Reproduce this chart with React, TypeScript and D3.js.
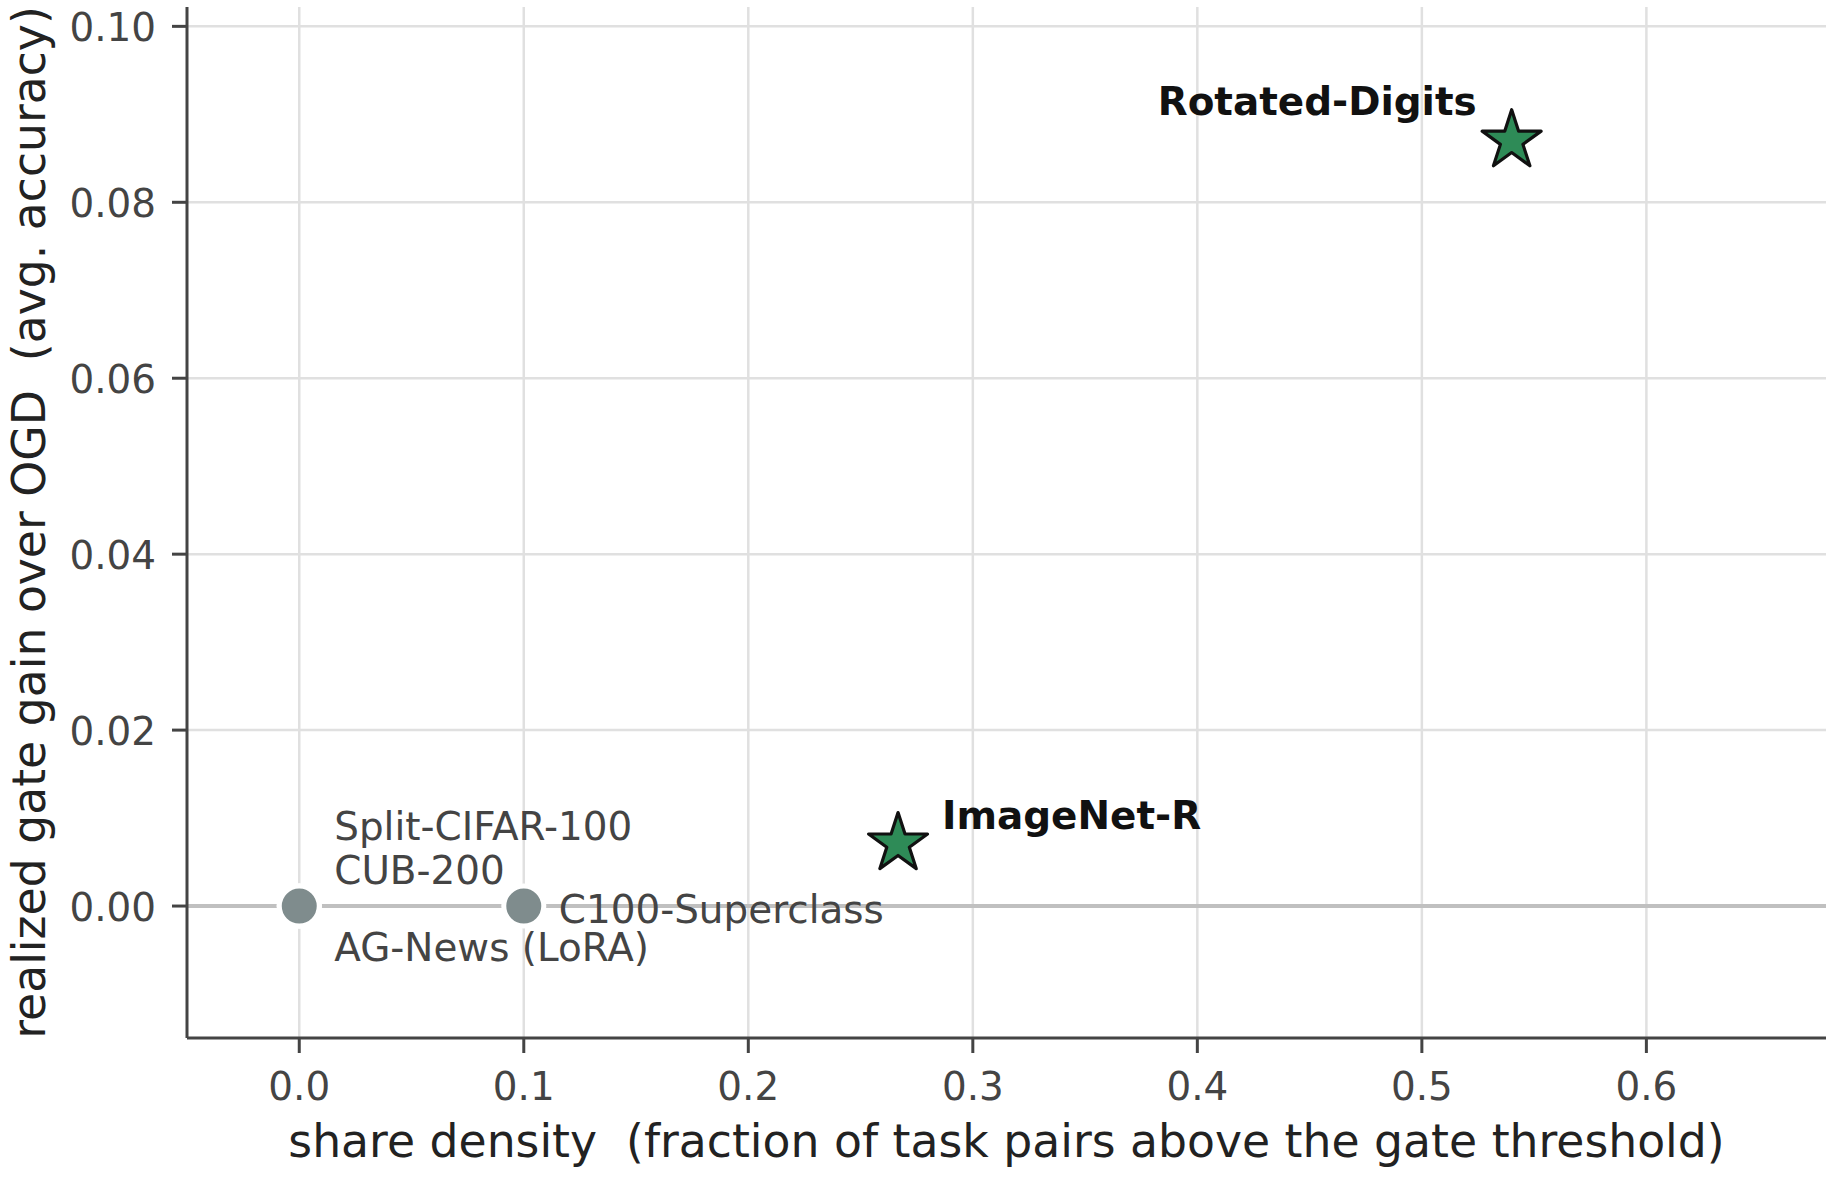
import React from "react";
import * as d3 from "d3";

const datasets = ["Split-CIFAR-100", "CUB-200", "AG-News (LoRA)", "C100-Superclass", "ImageNet-R", "Rotated-Digits"];
const shareDensity = [0.0, 0.0, 0.0, 0.1, 0.2667, 0.54];
const gateGain = [0.0, 0.0, 0.0, 0.0, 0.0071, 0.087];
const gated = [false, false, false, false, true, true];

const xTicks = [0.0, 0.1, 0.2, 0.3, 0.4, 0.5, 0.6];
const yTicks = [0.0, 0.02, 0.04, 0.06, 0.08, 0.1];

const xLabel = "share density  (fraction of task pairs above the gate threshold)";
const yLabel = "realized gate gain over OGD  (avg. accuracy)";

const W = 1836;
const H = 1178;
const M = { left: 187, right: 1826, top: 7, bottom: 1038 };
const FONT = "DejaVu Sans";

export default function App() {
  const x = d3.scaleLinear().domain([-0.05, 0.68]).range([M.left, M.right]);
  const y = d3.scaleLinear().domain([-0.015, 0.1022]).range([M.bottom, M.top]);
  const starPath = d3.symbol(d3.symbolStar, (31 * 31) / 0.8908130915)();

  // label offsets (px) relative to point
  const labelPos: Record<string, { dx: number; dy: number; anchor: string; bold: boolean }> = {
    "Split-CIFAR-100": { dx: 35, dy: -66, anchor: "start", bold: false },
    "CUB-200": { dx: 35, dy: -22, anchor: "start", bold: false },
    "AG-News (LoRA)": { dx: 35, dy: 55, anchor: "start", bold: false },
    "C100-Superclass": { dx: 35, dy: 17, anchor: "start", bold: false },
    "ImageNet-R": { dx: 44, dy: -15, anchor: "start", bold: true },
    "Rotated-Digits": { dx: -35, dy: -26, anchor: "end", bold: true },
  };

  return (
    <svg width={W} height={H} style={{ position: "absolute", left: 0, top: 0, background: "#fff" }} fontFamily={FONT}>
      <rect x={0} y={0} width={W} height={H} fill="#fff" />
      {/* grid */}
      {xTicks.map((t) => (
        <line key={"gx" + t} x1={x(t)} x2={x(t)} y1={M.top} y2={M.bottom} stroke="#e0e0e0" strokeWidth={2.5} />
      ))}
      {yTicks.map((t) => (
        <line key={"gy" + t} x1={M.left} x2={M.right} y1={y(t)} y2={y(t)} stroke="#e0e0e0" strokeWidth={2.5} />
      ))}
      {/* zero line */}
      <line x1={M.left} x2={M.right} y1={y(0)} y2={y(0)} stroke="#c0c0c0" strokeWidth={4} />
      {/* spines */}
      <line x1={M.left} x2={M.left} y1={M.top} y2={M.bottom} stroke="#444" strokeWidth={3} />
      <line x1={M.left} x2={M.right} y1={M.bottom} y2={M.bottom} stroke="#444" strokeWidth={3} />
      {/* ticks */}
      {xTicks.map((t) => (
        <g key={"tx" + t}>
          <line x1={x(t)} x2={x(t)} y1={M.bottom} y2={M.bottom + 15} stroke="#444" strokeWidth={3} />
          <text x={x(t)} y={1100} textAnchor="middle" fontSize={38.9} fill="#444">
            {d3.format(".1f")(t)}
          </text>
        </g>
      ))}
      {yTicks.map((t) => (
        <g key={"ty" + t}>
          <line x1={M.left - 15} x2={M.left} y1={y(t)} y2={y(t)} stroke="#444" strokeWidth={3} />
          <text x={156} y={y(t)} dy="0.38em" textAnchor="end" fontSize={38.9} fill="#444">
            {d3.format(".2f")(t)}
          </text>
        </g>
      ))}
      {/* axis labels */}
      <text x={(M.left + M.right) / 2} y={1157} textAnchor="middle" fontSize={45.7} fill="#222" style={{ whiteSpace: "pre" }}>
        {xLabel}
      </text>
      <text
        transform={`translate(45, ${(M.top + M.bottom) / 2}) rotate(-90)`}
        textAnchor="middle"
        fontSize={45.7}
        fill="#222"
        style={{ whiteSpace: "pre" }}
      >
        {yLabel}
      </text>
      {/* markers */}
      {datasets.map((d, i) =>
        gated[i] ? null : (
          <circle key={"c" + d} cx={x(shareDensity[i])} cy={y(gateGain[i])} r={20} fill="#7f8c8d" stroke="#fff" strokeWidth={5} />
        )
      )}
      {datasets.map((d, i) =>
        gated[i] ? (
          <path
            key={"s" + d}
            d={starPath}
            transform={`translate(${x(shareDensity[i])}, ${y(gateGain[i])})`}
            fill="#2e8b57"
            stroke="#111"
            strokeWidth={3.2}
            strokeLinejoin="round"
          />
        ) : null
      )}
      {/* labels */}
      {datasets.map((d, i) => {
        const p = labelPos[d];
        return (
          <text
            key={"l" + d}
            x={x(shareDensity[i]) + p.dx}
            y={y(gateGain[i]) + p.dy}
            textAnchor={p.anchor}
            fontSize={38.9}
            fontWeight={p.bold ? "bold" : "normal"}
            fill={p.bold ? "#111" : "#444"}
          >
            {d}
          </text>
        );
      })}
    </svg>
  );
}
